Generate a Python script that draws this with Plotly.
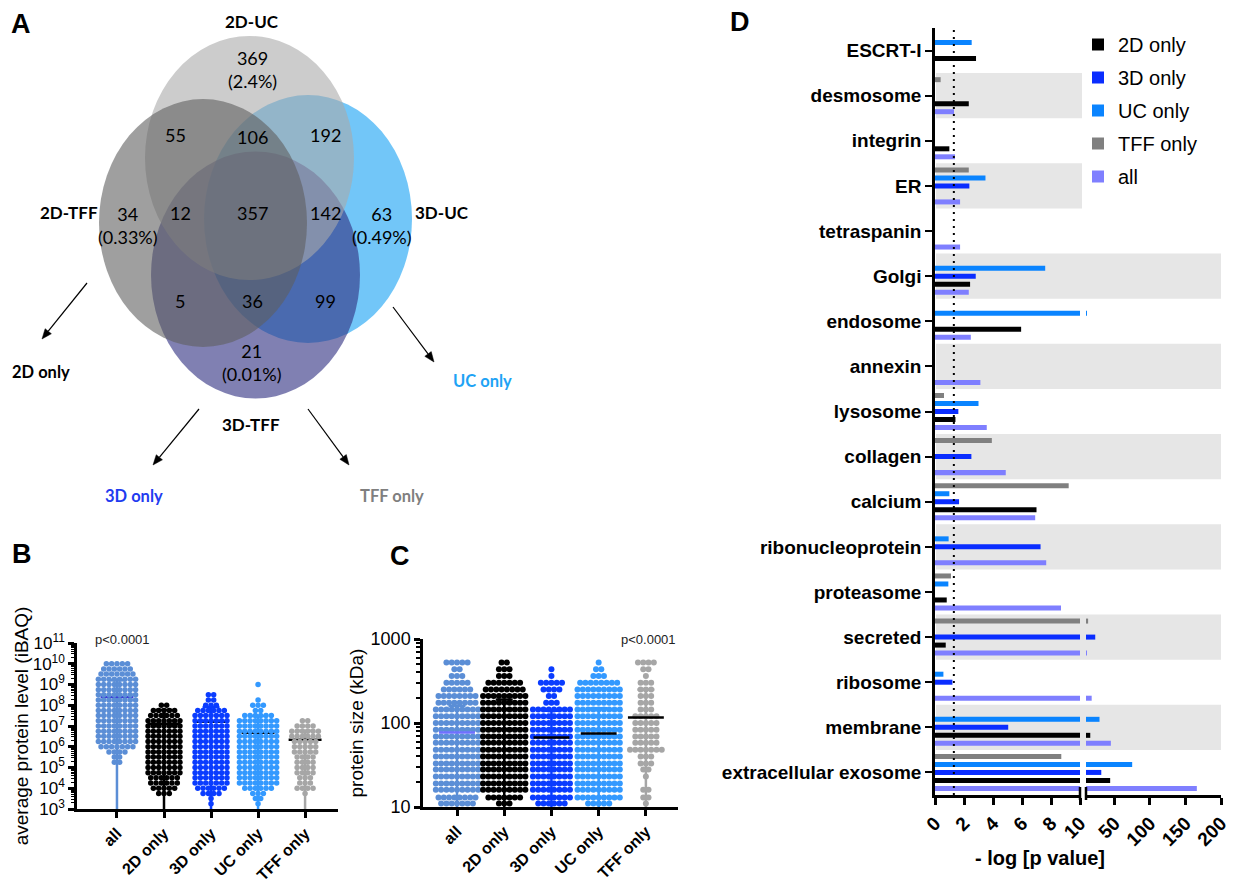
import math
import plotly.graph_objects as go

# The page body has an 8px margin: the figure is sized to fit the 1239x894 window exactly,
# and all layout positions below are given in window pixels.
OFF = 8
W, H = 1239 - 2 * OFF, 894 - 2 * OFF
def px(x): return (x - OFF) / W
def py(y): return 1 - (y - OFF) / H

SANS = "Liberation Sans, Arial, sans-serif"
VENN = "Lato, Open Sans, sans-serif"

# ---------------- Panel A : Venn data ----------------
venn_sets = ["2D-UC", "2D-TFF", "3D-UC", "3D-TFF"]
venn_counts = [369, 55, 106, 192, 34, 12, 357, 142, 63, 5, 36, 99, 21]
venn_pcts = ["2.4%", "", "", "", "0.33%", "", "", "", "0.49%", "", "", "", "0.01%"]
only_labels = ["2D only", "UC only", "3D only", "TFF only"]

# ---------------- Panel B / C : groups ----------------
groups = ["all", "2D only", "3D only", "UC only", "TFF only"]
grp_colors = ["#5b8ed6", "#000000", "#0a3cff", "#3399ff", "#a6a6a6"]

B_levels = [1.8e3, 3.2e3, 5.6e3, 1e4, 1.8e4, 3.2e4, 5.6e4, 1e5, 1.8e5, 3.2e5,
            5.6e5, 1e6, 1.8e6, 3.2e6, 5.6e6, 1e7, 1.8e7, 3.2e7, 5.6e7, 1e8,
            1.8e8, 3.2e8, 5.6e8, 1e9, 1.8e9, 3.2e9, 5.6e9, 1e10]
B_all = [0, 0, 0, 0, 0, 0, 0, 0, 2, 2, 4, 7, 8, 8, 8, 8, 8, 8, 8, 8, 8, 8, 8, 8, 8, 7, 6, 5]
B_2d  = [0, 0, 3, 5, 6, 6, 7, 7, 7, 7, 7, 7, 7, 7, 7, 7, 7, 6, 5, 2, 0, 0, 0, 0, 0, 0, 0, 0]
B_3d  = [1, 1, 4, 6, 7, 7, 7, 7, 7, 7, 7, 7, 7, 7, 7, 7, 7, 7, 6, 3, 2, 2, 0, 0, 0, 0, 0, 0]
B_uc  = [1, 2, 3, 6, 8, 8, 8, 8, 8, 8, 8, 8, 8, 8, 8, 8, 8, 6, 2, 3, 1, 0, 0, 1, 0, 0, 0, 0]
B_tff = [0, 0, 1, 4, 3, 3, 4, 4, 4, 4, 5, 5, 5, 6, 6, 4, 2, 0, 0, 0, 0, 0, 0, 0, 0, 0, 0, 0]
B_mean = [2.5e8, 1.3e7, 1.6e7, 4.7e6, 2.2e6]
B_sd_hi = [1.6e9, 6e7, 8e7, 3e7, 6e6]
B_sd_lo = [1e3, 1e3, 1e3, 1e3, 1e3]

# C: protein size row levels (kDa) and proteins per row
C_levels = [11, 13, 16, 19, 23, 28, 33, 40, 48, 58, 69, 83, 100, 120, 145, 174,
            209, 251, 302, 363, 437, 525]
C_all = [7, 8, 9, 9, 9, 9, 9, 9, 9, 9, 9, 9, 9, 9, 9, 8, 8, 6, 5, 3, 2, 5]
C_2d  = [3, 7, 9, 9, 9, 9, 9, 9, 9, 9, 9, 9, 9, 9, 9, 9, 9, 8, 7, 3, 3, 2]
C_3d  = [6, 8, 8, 8, 8, 8, 8, 8, 8, 8, 8, 8, 8, 8, 8, 3, 2, 4, 5, 1, 1, 0]
C_uc  = [5, 9, 9, 9, 9, 9, 9, 9, 9, 9, 9, 9, 9, 9, 9, 9, 9, 9, 8, 3, 2, 1]
C_tff = [1, 2, 2, 0, 1, 2, 3, 3, 7, 5, 5, 5, 5, 5, 3, 3, 3, 3, 3, 1, 2, 4]
C_mean = [77, 85, 67, 75, 116]
C_sd_hi = [160, 190, 140, 150, 250]
C_sd_lo = [10, 10, 10, 10, 10]

# ---------------- Panel D : enrichment ----------------
terms = ["ESCRT-I", "desmosome", "integrin", "ER", "tetraspanin", "Golgi", "endosome",
         "annexin", "lysosome", "collagen", "calcium", "ribonucleoprotein",
         "proteasome", "secreted", "ribosome", "membrane", "extracellular exosome"]
p_2d  = [2.83, 2.33, 0.99, None, None, 2.42, 5.94, None, 1.41, None, 7.0, None, 0.81, 0.74, None, 16, 44]
p_3d  = [None, None, None, 2.37, None, 2.81, None, None, 1.61, 2.51, 1.66, 7.28, None, 23, 1.2, 5.05, 31.5]
p_uc  = [2.53, None, None, 3.48, None, 7.6, 11.4, None, 3.0, None, 0.99, 0.94, 0.92, None, 0.58, 29, 75]
p_tff = [None, 0.39, None, 2.33, None, None, None, None, 0.62, 3.92, 9.22, None, 1.1, 13, None, None, 8.71]
p_all = [None, 1.31, 1.38, 1.73, 1.73, 2.33, 2.47, 3.13, 3.57, 4.88, 6.91, 7.67, 8.69, 11.4, 18, 45, 166]
shaded_short = ["desmosome", "ER"]
shaded_long = ["Golgi", "annexin", "collagen", "ribonucleoprotein", "secreted", "membrane"]
x_ticks_lo = [0, 2, 4, 6, 8, 10]
x_ticks_hi = [50, 100, 150, 200]
BREAK = 10

fig = go.Figure()

# ----- D bars -----
c2d, c3d, cuc, ctff, call = "#000000", "#0a2dff", "#0a84ff", "#808080", "#7f7fff"
series = [("all", p_all, call), ("2D only", p_2d, c2d), ("3D only", p_3d, c3d),
          ("UC only", p_uc, cuc), ("TFF only", p_tff, ctff)]
rank = {"2D only": 1, "3D only": 2, "UC only": 3, "TFF only": 4, "all": 5}
for name, vals, col in series:
    fig.add_trace(go.Bar(y=terms, x=vals, orientation="h", name=name,
                         marker=dict(color=col, line=dict(width=0)),
                         xaxis="x", yaxis="y", legendrank=rank[name], legendgroup=name))
for name, vals, col in series:
    hi = [v if (v is not None and v > BREAK) else None for v in vals]
    fig.add_trace(go.Bar(y=terms, x=hi, orientation="h", name=name,
                         marker=dict(color=col, line=dict(width=0)),
                         xaxis="x2", yaxis="y", showlegend=False, legendgroup=name))

# ----- B / C swarms -----
def swarm(levels, counts, gi, step):
    xs, ys = [], []
    for v, n in zip(levels, counts):
        for j in range(n):
            xs.append(gi + (j - (n - 1) / 2) * step)
            ys.append(v)
    return xs, ys

def errbars(his, los, xa, ya, colors, cap, width):
    for i in range(len(his)):
        fig.add_trace(go.Scatter(x=[i, i], y=[los[i], his[i]], mode="lines",
                                 line=dict(color=colors[i], width=width),
                                 xaxis=xa, yaxis=ya, showlegend=False, hoverinfo="skip"))
        fig.add_trace(go.Scatter(x=[i - cap, i + cap], y=[his[i], his[i]], mode="lines",
                                 line=dict(color=colors[i], width=width),
                                 xaxis=xa, yaxis=ya, showlegend=False, hoverinfo="skip"))

def means_line(means, xa, ya, mcolors, half, width):
    for i in range(len(means)):
        fig.add_trace(go.Scatter(x=[i - half, i + half], y=[means[i], means[i]], mode="lines",
                                 line=dict(color=mcolors[i], width=width),
                                 xaxis=xa, yaxis=ya, showlegend=False, hoverinfo="skip"))

mean_cols = ["#3b3bd6", "#000000", "#000000", "#000000", "#000000"]

# B
errbars(B_sd_hi, B_sd_lo, "x3", "y3", grp_colors, 0.18, 2.5)
means_line(B_mean, "x3", "y3", mean_cols, 0.35, 2.5)
for gi, cnt in enumerate([B_all, B_2d, B_3d, B_uc, B_tff]):
    xs, ys = swarm(B_levels, cnt, gi, 0.113)
    fig.add_trace(go.Scatter(x=xs, y=ys, mode="markers",
                             marker=dict(size=5.5, color=grp_colors[gi], line=dict(width=0)),
                             xaxis="x3", yaxis="y3", showlegend=False, name=groups[gi]))
# C
errbars(C_sd_hi, C_sd_lo, "x4", "y4", grp_colors, 0.18, 2.5)
for gi, cnt in enumerate([C_all, C_2d, C_3d, C_uc, C_tff]):
    xs, ys = swarm(C_levels, cnt, gi, 0.112)
    fig.add_trace(go.Scatter(x=xs, y=ys, mode="markers",
                             marker=dict(size=6, color=grp_colors[gi], line=dict(width=0)),
                             xaxis="x4", yaxis="y4", showlegend=False, name=groups[gi]))
means_line(C_mean, "x4", "y4", ["#7070ff", "#000000", "#000000", "#000000", "#000000"], 0.38, 2.5)

# ---------------- shapes ----------------
shapes = []
nT = len(terms)
for t in shaded_short + shaded_long:
    k = nT - 1 - terms.index(t)
    x1 = px(1082) if t in shaded_short else px(1221)
    shapes.append(dict(type="rect", xref="paper", yref="y", x0=px(936), x1=x1,
                       y0=k - 0.5, y1=k + 0.5, fillcolor="#e6e6e6", line=dict(width=0),
                       layer="below"))
# significance threshold (p = 0.05)
shapes.append(dict(type="line", xref="x", yref="paper", x0=1.3, x1=1.3,
                   y0=py(795), y1=py(28), line=dict(color="black", width=2, dash="2px,5px")))
# axis break marks
for bx in (1080, 1086):
    shapes.append(dict(type="line", xref="paper", yref="paper", x0=px(bx), x1=px(bx),
                       y0=py(800), y1=py(787), line=dict(color="black", width=2.5)))

# Venn ellipses (cx, cy, rx, ry) in pixels, order of drawing
ell = [("3D-UC", 308, 219, 104, 124, "rgba(114,198,248,1)"),
       ("3D-TFF", 255.5, 275, 104.5, 123.5, "rgba(50,50,130,0.62)"),
       ("2D-UC", 249.5, 158, 104.5, 122, "rgba(170,170,170,0.6)"),
       ("2D-TFF", 203, 223, 104, 124, "rgba(95,95,95,0.6)")]
for _, cx, cy, rx, ry, col in ell:
    shapes.append(dict(type="circle", xref="paper", yref="paper",
                       x0=px(cx - rx), x1=px(cx + rx), y0=py(cy + ry), y1=py(cy - ry),
                       fillcolor=col, line=dict(width=0)))

# arrows (line + triangular head)
arrows = [((87, 283), (42, 339)), ((393, 307), (434, 362)),
          ((199, 409), (153, 465)), ((308, 409), (349, 465))]
for (tx, ty), (hx, hy) in arrows:
    L = math.hypot(hx - tx, hy - ty)
    dx, dy = (hx - tx) / L, (hy - ty) / L
    nx, ny = -dy, dx
    bx, by = hx - dx * 10, hy - dy * 10
    shapes.append(dict(type="line", xref="paper", yref="paper", x0=px(tx), y0=py(ty),
                       x1=px(bx), y1=py(by), line=dict(color="black", width=1.2)))
    p1 = (bx + nx * 4, by + ny * 4)
    p2 = (bx - nx * 4, by - ny * 4)
    path = "M %f %f L %f %f L %f %f Z" % (px(hx), py(hy), px(p1[0]), py(p1[1]), px(p2[0]), py(p2[1]))
    shapes.append(dict(type="path", xref="paper", yref="paper", path=path,
                       fillcolor="black", line=dict(color="black", width=0.5)))

# ---------------- annotations ----------------
ann = []
def txt(x, y, s, size, color="black", family=SANS, bold=False, xanchor="center", angle=0):
    ann.append(dict(x=px(x), y=py(y), xref="paper", yref="paper", text=s, showarrow=False,
                    font=dict(family=family, size=size, color=color,
                              weight="bold" if bold else "normal"),
                    xanchor=xanchor, yanchor="middle", textangle=angle))

# panel letters
txt(21, 24, "A", 27, bold=True)
txt(22, 554, "B", 27, bold=True)
txt(400, 556, "C", 27, bold=True)
txt(740, 22, "D", 27, bold=True)

# Venn set names
set_pos = [(252, 21), (69, 213), (442, 213), (251, 424)]
for name, (x, y) in zip(venn_sets, set_pos):
    txt(x, y, name, 17, family=VENN, bold=True)
# Venn region counts
reg_pos = [(252, 57), (175, 135), (252, 137), (325, 135), (128, 213), (180, 213),
           (252, 213), (325, 213), (382, 213), (180, 301), (252, 301), (325, 301), (252, 350)]
for c, p, (x, y) in zip(venn_counts, venn_pcts, reg_pos):
    if p:
        txt(x, y + 12.5, f"{c}<br>({p})", 18, family=VENN)
    else:
        txt(x, y, str(c), 18, family=VENN)

only_pos = [(41, 372), (482, 381), (134, 496), (392, 496)]
only_cols = ["#000000", "#1ea3f5", "#1f3cf0", "#7f7f7f"]
for s, (x, y), col in zip(only_labels, only_pos, only_cols):
    txt(x, y, s, 16.5, color=col, family=VENN, bold=True)

# p-values
txt(122, 639, "p<0.0001", 13, color="#222222")
txt(648, 639, "p<0.0001", 13, color="#222222")
# D x title
txt(1040, 858, "- log [p value]", 20, bold=True)

# ---------------- layout ----------------
axis_common = dict(showgrid=False, zeroline=False, showline=True, linecolor="black",
                   linewidth=2.5, ticks="outside", tickcolor="black", automargin=False)
boldtick19 = dict(family=SANS, size=19, color="black", weight="bold")
boldtick16 = dict(family=SANS, size=16, color="black", weight="bold")

B_tickvals = [1e3, 1e4, 1e5, 1e6, 1e7, 1e8, 1e9, 1e10, 1e11]
B_ticktext = ["10<sup>%d</sup>" % e for e in range(3, 12)]
B_minor = [m * 10 ** e for e in range(3, 11) for m in (2, 3, 4, 5, 6, 7, 8, 9)]
C_minor = [m * 10 ** e for e in range(1, 3) for m in (2, 3, 4, 5, 6, 7, 8, 9)]

fig.update_layout(
    template="none",
    width=W, height=H, margin=dict(l=0, r=0, t=0, b=0, pad=0, autoexpand=False),
    paper_bgcolor="white", plot_bgcolor="rgba(0,0,0,0)",
    font=dict(family=SANS, color="black"),
    barmode="group", bargap=0.113, bargroupgap=0.375,
    showlegend=True,
    legend=dict(x=px(1078), y=py(25), xanchor="left", yanchor="top",
                font=dict(family=SANS, size=20, color="black"),
                traceorder="grouped", tracegroupgap=4, bgcolor="rgba(0,0,0,0)"),
    xaxis=dict(domain=[px(935), px(1080)], range=[0, BREAK], anchor="y",
               tickvals=x_ticks_lo, tickangle=-45, ticklen=7, tickwidth=2.5,
               tickfont=boldtick19, **axis_common),
    xaxis2=dict(domain=[px(1086), px(1221)], range=[BREAK, 200], anchor="y",
                tickvals=x_ticks_hi, tickangle=-45, ticklen=7, tickwidth=2.5,
                tickfont=boldtick19, **axis_common),
    yaxis=dict(domain=[py(795), py(28)], anchor="x", type="category",
               categoryorder="array", categoryarray=terms[::-1], range=[-0.5, nT - 0.5],
               ticklen=7, tickwidth=2, tickfont=boldtick19, **axis_common),
    xaxis3=dict(domain=[px(77), px(338)], range=[-0.85, 4.70], anchor="y3",
                tickvals=list(range(5)), ticktext=groups, tickangle=-45, ticklen=6,
                tickwidth=2.5, tickfont=boldtick16, **axis_common),
    yaxis3=dict(domain=[py(809), py(643)], type="log", range=[3, 11], anchor="x3",
                tickvals=B_tickvals, ticktext=B_ticktext, ticklen=6, tickwidth=2.5,
                tickfont=dict(family=SANS, size=17, color="black"),
                minor=dict(tickvals=B_minor, ticks="outside", ticklen=3, tickwidth=1.2,
                           tickcolor="black", showgrid=False),
                title=dict(text="average protein level (iBAQ)", standoff=0,
                           font=dict(family=SANS, size=19, color="black")),
                **axis_common),
    xaxis4=dict(domain=[px(423), px(678)], range=[-0.72, 4.68], anchor="y4",
                tickvals=list(range(5)), ticktext=groups, tickangle=-45, ticklen=6,
                tickwidth=2.5, tickfont=boldtick16, **axis_common),
    yaxis4=dict(domain=[py(807), py(639)], type="log", range=[1, 3], anchor="x4",
                tickvals=[10, 100, 1000], ticktext=["10", "100", "1000"], ticklen=6,
                tickwidth=2.5, tickfont=dict(family=SANS, size=18, color="black"),
                minor=dict(tickvals=C_minor, ticks="outside", ticklen=4, tickwidth=1.5,
                           tickcolor="black", showgrid=False),
                title=dict(text="protein size (kDa)", standoff=2,
                           font=dict(family=SANS, size=19, color="black")),
                **axis_common),
    shapes=shapes, annotations=ann,
)

fig.write_html("out.html")
